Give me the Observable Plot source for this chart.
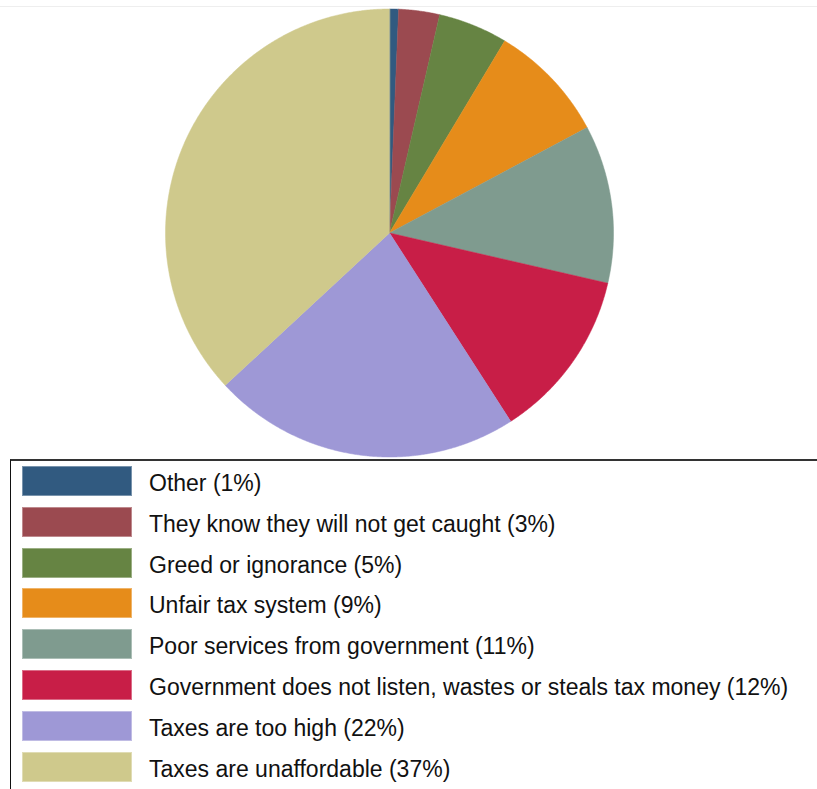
<!DOCTYPE html>
<html>
<head>
<meta charset="utf-8">
<script src="https://cdn.jsdelivr.net/npm/d3@7"></script>
<script src="https://cdn.jsdelivr.net/npm/@observablehq/plot@0.6"></script>
<style>
  html, body { margin: 0; padding: 0; background: #fff; width: 817px; height: 789px; overflow: hidden; }
  body { position: relative; font-family: "Liberation Sans", Arial, sans-serif; }
  #topline { position: absolute; left: 0; top: 6px; width: 817px; height: 0; border-top: 1px solid #eeeeee; }
  #chart { position: absolute; left: 0; top: 0; }
  #legend { position: absolute; left: 10px; top: 459px; width: 820px; height: 340px;
            border-top: 2px solid #333; border-left: 1px solid #111; box-sizing: border-box; }
  .row { position: absolute; left: 11px; height: 30px; }
  .sw { position: absolute; left: 0; top: 0; width: 110px; height: 30px; box-sizing: border-box; border: 1px solid rgba(255,255,255,0.35); }
  .lab { position: absolute; left: 127px; top: 2px; line-height: 30px; font-family: "Liberation Sans", Arial, sans-serif;
         font-size: 23px; color: #111; white-space: nowrap; }
</style>
</head>
<body>
<div id="topline"></div>
<div id="chart"></div>
<div id="legend"></div>
<script>
const categories = [
  "Other",
  "They know they will not get caught",
  "Greed or ignorance",
  "Unfair tax system",
  "Poor services from government",
  "Government does not listen, wastes or steals tax money",
  "Taxes are too high",
  "Taxes are unaffordable"
];
const values = [0.65, 2.95, 5.0, 8.6, 11.4, 12.3, 22.2, 36.9];
const labelPercents = ["1%", "3%", "5%", "9%", "11%", "12%", "22%", "37%"];
const colors = ["#315a80", "#9b4a50", "#668443", "#e68c1a", "#7f9b8f", "#c81e47", "#9e98d6", "#cfc98c"];

// Build slice polygons in data space (unit circle) from pie angles
const arcs = d3.pie().sort(null).value(d => d)(values);
const pts = [];
arcs.forEach((a, i) => {
  const cat = categories[i];
  pts.push({cat, x: 0, y: 0});
  const n = Math.max(4, Math.ceil((a.endAngle - a.startAngle) / 0.005));
  for (let k = 0; k <= n; k++) {
    const t = a.startAngle + (a.endAngle - a.startAngle) * k / n;
    pts.push({cat, x: Math.sin(t), y: Math.cos(t)});
  }
});

const cx = 389, cy = 232.5, r = 224;
const plot = Plot.plot({
  width: 817,
  height: 459,
  margin: 0,
  x: {domain: [-1, 1], range: [cx - r, cx + r], axis: null},
  y: {domain: [-1, 1], range: [cy + r, cy - r], axis: null},
  color: {domain: categories, range: colors},
  marks: [
    Plot.line(pts, {x: "x", y: "y", z: "cat", fill: "cat", stroke: "cat", strokeWidth: 0.5, curve: "linear-closed"})
  ]
});
document.getElementById("chart").appendChild(plot);

const legend = document.getElementById("legend");
categories.forEach((c, i) => {
  const row = document.createElement("div");
  row.className = "row";
  row.style.top = (5 + i * 40.8) + "px";
  const sw = document.createElement("div");
  sw.className = "sw";
  sw.style.background = colors[i];
  const lab = document.createElement("div");
  lab.className = "lab";
  lab.textContent = `${c} (${labelPercents[i]})`;
  row.appendChild(sw);
  row.appendChild(lab);
  legend.appendChild(row);
});
</script>
</body>
</html>
